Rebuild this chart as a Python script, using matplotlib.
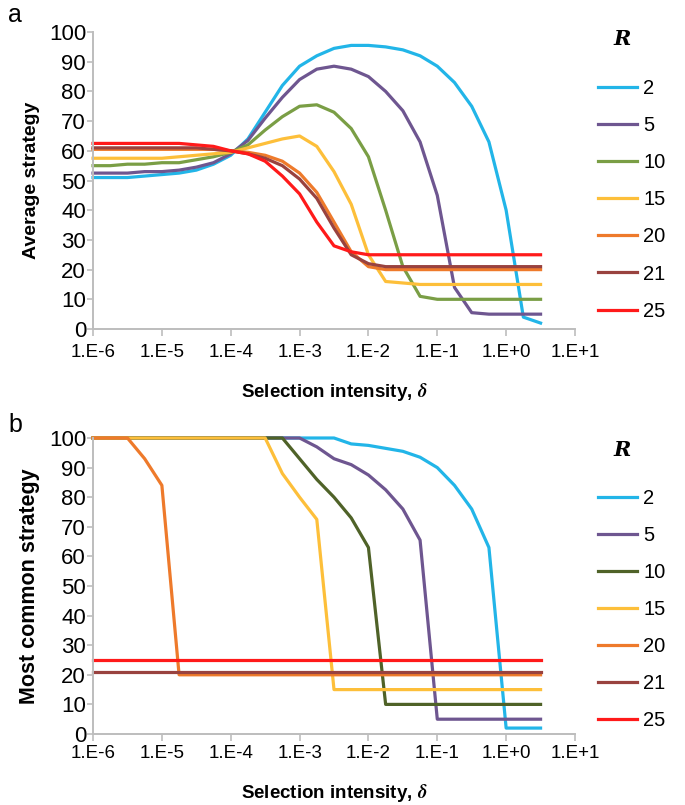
import numpy as np
import matplotlib.pyplot as plt
from matplotlib.ticker import FixedLocator, FuncFormatter, NullLocator

# selection intensity, quarter decades from 1e-6 to 10^0.5
log_delta = np.arange(-6, 0.51, 0.25)
delta = 10 ** log_delta

R_values = ['2', '5', '10', '15', '20', '21', '25']

# panel a: average strategy
avg_R2 = [51, 51, 51, 51.5, 52, 52.5, 53.5, 55.5, 58.5, 64, 73, 82, 88.5, 92, 94.5, 95.5,
          95.5, 95, 94, 92, 88.5, 83, 75, 63, 40, 4, 2]
avg_R5 = [52.5, 52.5, 52.5, 53, 53, 53.5, 54.5, 56, 59, 63.5, 71, 78, 84, 87.5, 88.5, 87.5,
          85, 80, 73.5, 63, 45, 14, 5.5, 5, 5, 5, 5]
avg_R10 = [55, 55, 55.5, 55.5, 56, 56, 57, 58, 59.5, 62, 67, 71.5, 75, 75.5, 73, 67.5,
           58, 40, 21, 11, 10, 10, 10, 10, 10, 10, 10]
avg_R15 = [57.5, 57.5, 57.5, 57.5, 57.5, 58, 58.5, 59, 59.5, 61, 62.5, 64, 65, 61.5, 53, 42,
           25, 16, 15.5, 15, 15, 15, 15, 15, 15, 15, 15]
avg_R20 = [60.5, 60.5, 60.5, 60.5, 60.5, 60.5, 60.5, 60.5, 60, 59.5, 58.5, 56.5, 52.5, 46, 36, 26,
           21, 20, 20, 20, 20, 20, 20, 20, 20, 20, 20]
avg_R21 = [61, 61, 61, 61, 61, 61, 61, 60.5, 60, 59, 57.5, 55, 50.5, 44, 34, 25,
           22, 21, 21, 21, 21, 21, 21, 21, 21, 21, 21]
avg_R25 = [62.5, 62.5, 62.5, 62.5, 62.5, 62.5, 62, 61.5, 60, 59, 56.5, 51.5, 45.5, 36, 28, 26,
           25, 25, 25, 25, 25, 25, 25, 25, 25, 25, 25]

# panel b: most common strategy
mode_R2 = [100] * 15 + [98, 97.5, 96.5, 95.5, 93.5, 90, 84, 76, 63, 2, 2, 2]
mode_R5 = [100] * 13 + [97, 93, 91, 87.5, 82.5, 76, 65.5, 5, 5, 5, 5, 5, 5, 5]
mode_R10 = [100] * 12 + [93, 86, 80, 73, 63, 10, 10, 10, 10, 10, 10, 10, 10, 10, 10]
mode_R15 = [100] * 11 + [88, 80, 72.5, 15, 15, 15, 15, 15, 15, 15, 15, 15, 15, 15, 15, 15]
mode_R20 = [100, 100, 100, 93, 84] + [20] * 22
mode_R21 = [21] * 27
mode_R25 = [25] * 27

colors_a = ['#22B5E8', '#6E5690', '#7A9E45', '#FDBF3A', '#EE7A2B', '#99423F', '#FF1A1A']
colors_b = ['#22B5E8', '#6E5690', '#4F6228', '#FDBF3A', '#EE7A2B', '#99423F', '#FF1A1A']

plt.rcParams['font.family'] = ['Liberation Sans', 'DejaVu Sans']
plt.rcParams['mathtext.fontset'] = 'stix'

fig = plt.figure(figsize=(6.85, 8.05), dpi=100)
ax_a = fig.add_axes([0.1358, 0.5913, 0.7036, 0.3689])
ax_b = fig.add_axes([0.1358, 0.0882, 0.7036, 0.3677])


def fmt_exp(v, pos):
    e = int(round(np.log10(v)))
    return '1.E%s%d' % ('+' if e >= 0 else '-', abs(e))


def style_axis(ax, ylabel, ysize, xpad):
    ax.set_xscale('log')
    ax.set_xlim(1e-6, 1e1)
    ax.set_ylim(0, 100)
    ax.xaxis.set_major_locator(FixedLocator([10.0 ** k for k in range(-6, 2)]))
    ax.xaxis.set_minor_locator(NullLocator())
    ax.xaxis.set_major_formatter(FuncFormatter(fmt_exp))
    ax.set_yticks(range(0, 101, 10))
    for s in ['top', 'right']:
        ax.spines[s].set_visible(False)
    for s in ['left', 'bottom']:
        ax.spines[s].set_color('#BDBDBD')
        ax.spines[s].set_linewidth(1.4)
    ax.tick_params(axis='x', direction='out', length=5, width=1.2, color='#BDBDBD',
                   labelsize=13.5, pad=xpad)
    ax.tick_params(axis='y', direction='out', length=4, width=1.2, color='#BDBDBD',
                   labelsize=16, pad=1)
    ax.set_xlabel('Selection intensity, $\\boldsymbol{\\delta}$', fontsize=13.5,
                  fontweight='bold', labelpad=14)
    ax.set_ylabel(ylabel, fontsize=ysize, fontweight='bold', labelpad=6)


series_a = [avg_R2, avg_R5, avg_R10, avg_R15, avg_R20, avg_R21, avg_R25]
series_b = [mode_R2, mode_R5, mode_R10, mode_R15, mode_R20, mode_R21, mode_R25]

for vals, c, lab in zip(series_a, colors_a, R_values):
    ax_a.plot(delta, vals, color=c, linewidth=2.3, label=lab, clip_on=False)
for vals, c, lab in zip(series_b, colors_b, R_values):
    ax_b.plot(delta, vals, color=c, linewidth=2.3, label=lab, clip_on=False)

style_axis(ax_a, 'Average strategy', 14, 6)
style_axis(ax_b, 'Most common strategy', 15.5, 3)

for ax, ytop in [(ax_a, 0.902), (ax_b, 0.393)]:
    ax.legend(loc='upper left', bbox_to_anchor=(0.873, ytop), bbox_transform=fig.transFigure,
              frameon=False, fontsize=14.5, handlelength=1.95, handletextpad=0.3,
              labelspacing=0.9, borderaxespad=0, borderpad=0)

fig.text(0.908, 0.951, 'R', fontsize=15, fontweight='bold', style='italic',
         family='DejaVu Serif', ha='center', va='center')
fig.text(0.908, 0.441, 'R', fontsize=15, fontweight='bold', style='italic',
         family='DejaVu Serif', ha='center', va='center')

fig.text(0.012, 0.981, 'a', fontsize=18, ha='left', va='center')
fig.text(0.012, 0.472, 'b', fontsize=18, ha='left', va='center')

fig.savefig('out.png', dpi=100)
